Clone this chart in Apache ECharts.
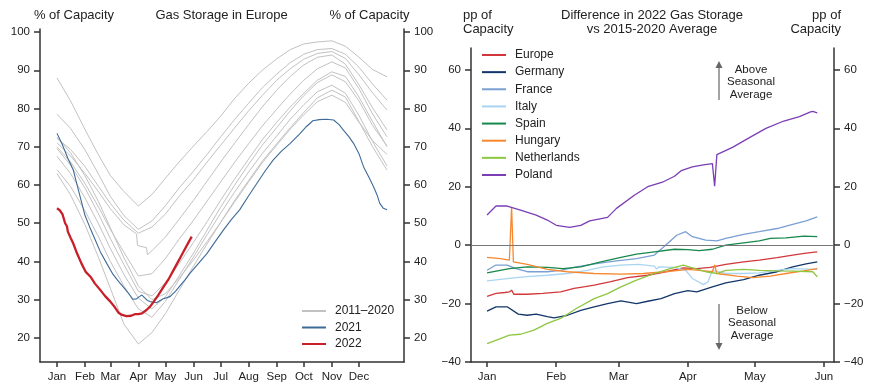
<!DOCTYPE html>
<html><head><meta charset="utf-8">
<script src="https://cdn.jsdelivr.net/npm/echarts@6/dist/echarts.min.js"></script>
<style>html,body{margin:0;padding:0;background:#fff}#c{width:893px;height:387px}</style>
</head><body><div id="c"></div>
<script>
// ---------- axis data ----------
const MONTHS = ['Jan','Feb','Mar','Apr','May','Jun','Jul','Aug','Sep','Oct','Nov','Dec'];
const MONTH_DAYS = [0,31,59,90,120,151,181,212,243,273,304,334];
const RIGHT_MONTH_DAYS = [0,31,59,90,120,151];
const LEFT_Y_TICKS = [20,30,40,50,60,70,80,90,100];
const RIGHT_Y_TICKS = [-40,-20,0,20,40,60];

// ---------- left chart: storage levels (% of capacity) by day of year ----------
const GRID_DAYS = [0,15,31,46,59,74,90,105,120,135,151,166,181,196,212,227,243,258,273,288,304,319,334,349,365];
const G1 = [88,82,74.5,67.8,62.5,58.3,54.5,57.5,61.8,66,70.2,74,78,82.5,86.6,90,93,95.4,96.9,97.4,97.7,96.3,93.4,90.2,88.3];
const G2 = [78.5,74.8,69.2,62.8,57,52,48.4,50.6,54.6,59.2,63.6,68,72.6,77,81.4,85.4,89,92,94.2,95.4,95.7,94.2,90.8,86.4,82.2];
const G3 = [72.2,69.3,64.8,59.6,55.2,50.8,47.4,49,52.4,57,61.4,66,70.4,74.8,79.4,83.4,87.4,90.4,92.9,94.4,94.9,93.1,88.8,84.1,79.6];
const G4_DAYS = [0,15,31,46,59,74,88,89,99,100,105,120,135,151,166,181,196,212,227,243,258,273,288,304,319,334,349,365];
const G4 = [71,67.6,63,58.2,53.8,49.6,47.2,44.2,43.6,41.8,42.8,46.4,51,56,61,66,70.8,75.8,80.4,84.8,88.4,91.4,93.4,94,91.6,86.2,80.2,74.4];
const G5 = [70,66,60.4,54.2,48.4,42.4,36.2,36.8,40.8,45.8,50.8,55.8,60.8,65.8,70.8,75.4,79.8,83.8,87.4,90.4,92.2,90.6,85.2,78.6,72.6];
const G6 = [69.5,65.2,59.2,52.4,46,39.2,32.2,31,34.4,39.4,45,50.4,56,61.4,66.8,71.8,76.4,80.4,84,87.4,89.6,88.4,83,76.6,70];
const G7 = [67.5,63,56.6,49.8,43.4,36.6,30.4,27.6,30.8,36.2,42.2,48.2,54.2,59.8,65.4,70.4,75,79.4,83.4,86.8,88.8,87,82,75.6,70.2];
const G8 = [64,59.6,53.2,46.4,40,33.6,27.6,25.4,29.6,35.2,41.2,47,52.6,58,63.4,68.2,72.8,77.2,81,84.4,86.1,84,78.2,71.4,65];
const G9 = [63,57.4,49.6,41,33,23.6,18.4,21.4,26.4,32.4,38.8,44.6,50.2,55.8,61.2,66.2,70.8,75,79,82.8,84.8,83,76.6,70,63.9];
const G10 = [72.5,68.4,62.4,55.6,48.8,41,33.6,30,31.6,35.6,40.4,45.2,50.2,55.4,60.8,65.8,70.4,74.6,78.4,81.8,83.5,81.6,76.4,71.6,68];

const Y2021 = [[0,73.5],[6,70.5],[12,67],[18,63.9],[25,57.5],[31,52],[36,49.1],[42,45.8],[48,42.5],[55,39.5],[62,36.6],[68,34.8],[73,33.4],[78,32],[84,30.1],[88,30.2],[91,30.8],[94,31.2],[97,30.5],[100,29.8],[103,29.5],[110,29.2],[117,30.2],[125,30.8],[131,32.2],[136,33.6],[142,35.3],[147,36.9],[157,39.6],[166,42.1],[175,45.2],[184,48.2],[193,51],[202,53.5],[212,57.2],[221,60.4],[230,63.6],[239,66.5],[248,68.8],[258,70.9],[269,73.5],[276,75.3],[283,76.8],[290,77.1],[298,77.2],[306,77],[312,75.8],[317,74.3],[323,72.6],[328,70.9],[334,68.2],[339,64.8],[345,62],[350,59.6],[354,57.4],[357,55.2],[361,53.9],[365,53.5]];
const Y2022 = [[0,53.9],[3,53.4],[6,52.4],[9,50],[11,49.2],[12,47.8],[15,46.2],[18,44.7],[22,42.2],[27,39.5],[32,37.2],[37,36],[42,34.2],[48,32.5],[53,31],[59,29.5],[64,28],[68,26.6],[72,26],[77,25.7],[82,25.8],[86,26.2],[88,26.4],[90,26.2],[92,26],[94,26.4],[96,26.8],[99,27.3],[103,28.2],[107,29.5],[112,31.2],[118,33.4],[124,35.6],[129,37.8],[135,40.4],[140,42.6],[145,44.8],[149,46.5]];

// ---------- right chart: difference vs 2015-2020 average (pp), by day of 2022 ----------
const EUROPE = [[0,-17.5],[4,-16.5],[8,-16.2],[10,-16],[11,-15.4],[12,-16.8],[18,-16.8],[25,-16.5],[33,-16],[39,-14.8],[44,-14.2],[48,-13.7],[55,-12.6],[63,-11.1],[72,-10.3],[80,-9.1],[88,-7.8],[94,-8],[100,-7.6],[107,-6.6],[115,-5.7],[122,-5.1],[130,-4.3],[137,-3.4],[143,-2.7],[148,-2.3]];
const GERMANY = [[0,-22.6],[4,-21.1],[9,-21.1],[14,-23.6],[18,-24],[22,-23.6],[27,-24.5],[30,-24.9],[36,-24],[42,-22.3],[48,-21.1],[54,-20],[60,-19.1],[67,-20],[72,-19.2],[78,-18.3],[84,-16.6],[90,-15.6],[94,-16],[101,-14.3],[107,-12.9],[115,-11.8],[122,-10.3],[130,-9.1],[137,-7.4],[143,-6.4],[148,-5.7]];
const FRANCE = [[0,-8.6],[4,-6.8],[9,-6.8],[13,-8],[18,-9.1],[27,-9.1],[33,-8.6],[40,-7.4],[49,-6.3],[58,-5.4],[67,-4.6],[75,-3.4],[80,0],[85,3.4],[89,4.6],[92,2.9],[98,1.7],[103,1.5],[107,2.3],[115,3.7],[122,4.6],[130,5.7],[137,7.1],[143,8.3],[148,9.7]];
const ITALY = [[0,-12.2],[10,-11.4],[18,-10.8],[27,-10.3],[36,-9.7],[45,-8.6],[52,-7.4],[60,-6.8],[68,-6.6],[75,-7.2],[76,-8.2],[77,-7.4],[84,-7.6],[89,-8.6],[92,-11.4],[97,-13.5],[99,-12.6],[101,-8.6],[107,-9.7],[115,-9.7],[122,-9.5],[130,-8.6],[137,-8],[148,-8.3]];
const SPAIN = [[0,-9.5],[10,-8],[18,-7.4],[27,-7.6],[34,-8],[42,-7.4],[51,-5.7],[60,-4.2],[67,-3.1],[75,-2.3],[84,-1.4],[90,-1.5],[95,-1.9],[101,-1.4],[107,0],[115,0.8],[122,1.5],[127,2.3],[134,2.5],[142,3.1],[148,2.9]];
const HUNGARY = [[0,-4.2],[6,-4.6],[10,-5.1],[11,13.1],[11.8,-5.7],[18,-6.6],[27,-8.3],[36,-9.1],[48,-9.7],[60,-9.9],[70,-9.7],[80,-9.1],[90,-8.3],[95,-8.6],[101,-9.1],[102,-6.8],[103,-9.7],[112,-10.6],[119,-11.1],[127,-10.6],[134,-9.7],[142,-8.8],[148,-8]];
const NETHERLANDS = [[0,-33.7],[6,-32],[10,-30.8],[15,-30.5],[21,-29.1],[27,-26.8],[33,-25.1],[40,-21.7],[48,-18.3],[54,-16.6],[60,-14.3],[67,-12],[75,-9.7],[82,-8],[88,-6.8],[92,-7.8],[98,-9.1],[103,-9.7],[107,-8.6],[115,-8.3],[122,-8.6],[130,-8.8],[137,-8.9],[146,-9.1],[148,-10.8]];
const POLAND = [[0,10.3],[4,13.4],[9,13.4],[15,12],[22,10.3],[27,8.6],[31,6.8],[37,6.1],[42,6.8],[46,8.3],[54,9.5],[58,12.6],[66,17.1],[72,20],[79,21.7],[84,23.6],[87,25.5],[92,26.8],[97,27.5],[101,27.9],[102,20.2],[103,31],[110,33.5],[118,37],[125,40],[133,42.5],[140,44],[145,45.6],[146,45.8],[148,45.3]];

const COUNTRY_NAMES = ['Europe','Germany','France','Italy','Spain','Hungary','Netherlands','Poland'];
const COUNTRY_DATA = [EUROPE,GERMANY,FRANCE,ITALY,SPAIN,HUNGARY,NETHERLANDS,POLAND];
const COUNTRY_COLORS = ['#d2383a','#13366a','#7a9fd3','#a9d5f2','#17884b','#f7882f','#8dc63f','#7b3eb5'];

// ---------- build ----------
const FONT = '"Liberation Sans", Arial, Helvetica, sans-serif';
const AX = '#333';
const TXT = '#222';
const pairs = (days, vals) => days.map((d, i) => [d, vals[i]]);
const minus = v => String(v).replace('-', '\u2212');

function xAxisCfg(grid, min, max, ticks) {
  return {
    type: 'value', gridIndex: grid, min: min, max: max,
    axisLine: { show: true, onZero: false, lineStyle: { color: AX, width: 1.5 } },
    axisTick: { show: true, customValues: ticks, length: 5, lineStyle: { color: AX, width: 1.5 } },
    axisLabel: { customValues: ticks, margin: 9, fontSize: 11.5, color: TXT, fontFamily: FONT,
      formatter: v => MONTHS[MONTH_DAYS.indexOf(Math.round(v))] },
    splitLine: { show: false }
  };
}
function yAxisCfg(grid, pos, min, max, ticks) {
  return {
    type: 'value', gridIndex: grid, position: pos, min: min, max: max,
    axisLine: { show: true, onZero: false, lineStyle: { color: AX, width: 1.5 } },
    axisTick: { show: true, customValues: ticks, length: 6, lineStyle: { color: AX, width: 1.5 } },
    axisLabel: { customValues: ticks, margin: 10, fontSize: 11.5, color: TXT, fontFamily: FONT, formatter: minus },
    splitLine: { show: false }
  };
}

const greyCurves = [[GRID_DAYS,G1],[GRID_DAYS,G2],[GRID_DAYS,G3],[G4_DAYS,G4],[GRID_DAYS,G5],[GRID_DAYS,G6],[GRID_DAYS,G7],[GRID_DAYS,G8],[GRID_DAYS,G9],[GRID_DAYS,G10]];
const GREY = '#c2c2c2';
const series = [];
greyCurves.forEach(([d, v]) => series.push({
  name: '2011–2020', type: 'line', xAxisIndex: 0, yAxisIndex: 0, data: pairs(d, v),
  showSymbol: false, symbol: 'none', lineStyle: { color: GREY, width: 1 }, itemStyle: { color: GREY }, z: 2
}));
series.push({ name: '2021', type: 'line', xAxisIndex: 0, yAxisIndex: 0, data: Y2021, showSymbol: false, symbol: 'none',
  lineStyle: { color: '#3e6a98', width: 1.1 }, itemStyle: { color: '#3e6a98' }, z: 3 });
series.push({ name: '2022', type: 'line', xAxisIndex: 0, yAxisIndex: 0, data: Y2022, showSymbol: false, symbol: 'none',
  lineStyle: { color: '#c8202a', width: 2.3 }, itemStyle: { color: '#c8202a' }, z: 4 });
COUNTRY_NAMES.forEach((n, i) => series.push({
  name: n, type: 'line', xAxisIndex: 1, yAxisIndex: 2, data: COUNTRY_DATA[i], showSymbol: false, symbol: 'none',
  lineStyle: { color: COUNTRY_COLORS[i], width: 1.3 }, itemStyle: { color: COUNTRY_COLORS[i] }, z: 3,
  markLine: i === 0 ? { silent: true, symbol: ['none','none'], label: { show: false },
    lineStyle: { color: '#777', width: 1, type: 'solid' }, data: [{ yAxis: 0 }], animation: false } : undefined
}));

const legendText = { fontSize: 12, lineHeight: 14, color: TXT, fontFamily: FONT, padding: [0,0,0,4] };
const txt = (text, x, y, align, extra) => ({ type: 'text', silent: true,
  style: Object.assign({ text: text, x: x, y: y, align: align, verticalAlign: 'middle', fill: TXT,
    fontSize: 13, fontFamily: FONT, lineHeight: 14 }, extra || {}) });

const option = {
  animation: false,
  backgroundColor: '#fff',
  grid: [
    { left: 40, top: 29, width: 364, height: 333, containLabel: false },
    { left: 471, top: 48, width: 363, height: 314, containLabel: false }
  ],
  xAxis: [ xAxisCfg(0, -18.8, 383.8, MONTH_DAYS), xAxisCfg(1, -7.2, 155.5, RIGHT_MONTH_DAYS) ],
  yAxis: [
    yAxisCfg(0, 'left', 13.7, 100.8, LEFT_Y_TICKS),
    yAxisCfg(0, 'right', 13.7, 100.8, LEFT_Y_TICKS),
    yAxisCfg(1, 'left', -40, 67.5, RIGHT_Y_TICKS),
    yAxisCfg(1, 'right', -40, 67.5, RIGHT_Y_TICKS)
  ],
  legend: [
    { data: ['2011–2020','2021','2022'], orient: 'vertical', left: 302, top: 304, padding: 0, icon: 'rect',
      itemWidth: 24, itemHeight: 2, itemGap: 2.5, selectedMode: false, textStyle: legendText },
    { data: COUNTRY_NAMES, orient: 'vertical', left: 482, top: 48, padding: 0, icon: 'rect',
      itemWidth: 24, itemHeight: 2, itemGap: 3.14, selectedMode: false, textStyle: legendText }
  ],
  graphic: [
    txt('% of Capacity', 74, 15, 'center'),
    txt('Gas Storage in Europe', 221.5, 15, 'center'),
    txt('% of Capacity', 369.5, 15, 'center'),
    txt('pp of\nCapacity', 463, 22, 'left'),
    txt('Difference in 2022 Gas Storage\nvs 2015-2020 Average', 652, 22, 'center'),
    txt('pp of\nCapacity', 841, 22, 'right'),
    { type: 'line', silent: true, shape: { x1: 719, y1: 100, x2: 719, y2: 66 }, style: { stroke: '#666', lineWidth: 1.2 } },
    { type: 'polygon', silent: true, shape: { points: [[715.5,68],[722.5,68],[719,61]] }, style: { fill: '#666' } },
    { type: 'line', silent: true, shape: { x1: 719, y1: 304, x2: 719, y2: 345 }, style: { stroke: '#666', lineWidth: 1.2 } },
    { type: 'polygon', silent: true, shape: { points: [[715.5,343],[722.5,343],[719,350]] }, style: { fill: '#666' } },
    txt('Above\nSeasonal\nAverage', 751, 82.3, 'center', { fontSize: 11.5, lineHeight: 12.2 }),
    txt('Below\nSeasonal\nAverage', 752, 323.3, 'center', { fontSize: 11.5, lineHeight: 12.2 })
  ],
  series: series
};
const chart = echarts.init(document.getElementById('c'), null, { renderer: 'canvas' });
chart.setOption(option);
</script></body></html>
